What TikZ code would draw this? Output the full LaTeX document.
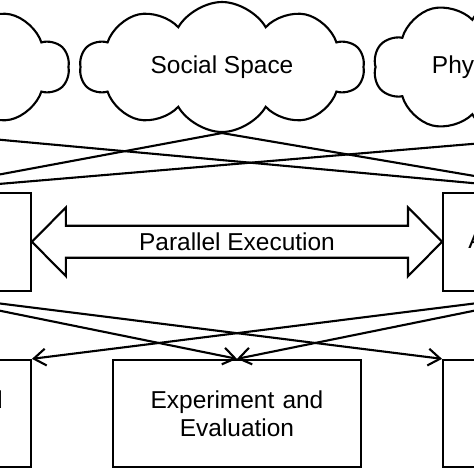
\documentclass[tikz,border=0pt]{standalone}
\usepackage{fontspec}
\setmainfont{Liberation Sans}
\usetikzlibrary{arrows.meta,positioning,shapes.symbols,calc}
\tikzset{
    %Define standard arrow tip
    >={Straight Barb[length=3mm,width=4.2mm]},
    font=\fontsize{17.4}{19.8}\selectfont,
    %Define style for clouds
    wolke/.style={
           cloud, cloud puffs=10, cloud puff arc=120, aspect=2.2,
           draw=black, line width=1.5pt,
           minimum width=7.1cm,
           minimum height=3.25cm,
           inner sep=0pt},
    %Define style for boxes
    rechteck/.style={
           rectangle,
           draw=black, line width=1.5pt,
           minimum width=6.2cm,
           text width=5.8cm,
           text centered},
    % Define line and arrow styles
    linie/.style={
           line width=1.5pt},
    pil/.style={
	   ->,
           line width=1.5pt},
    dbl/.style={
           draw=black, line width=1.5pt, line join=miter}
}

\begin{document}
\begin{tikzpicture}[node distance=0.25cm]
  \useasboundingbox (-5.925,-5.925) rectangle (5.925,5.925);
  \clip (-5.925,-5.925) rectangle (5.925,5.925);
  % spaces
  \node[wolke] (c2) at (-0.375,4.25) {Social Space};
  \node[wolke] (c1) [left=of c2] {};
  \node[wolke] (c3) [right=of c2] {Physical Space};
  % bottom row
  \node[rechteck, minimum height=2.675cm] (b2) at (0,-4.41) {Experiment and\\Evaluation};
  \node[rechteck, minimum height=2.675cm] (b1) [left=2cm of b2] {Management and\\Control};
  \node[rechteck, minimum height=2.675cm] (b3) [right=2cm of b2] {Learning and\\Training};
  % systems
  \node[rechteck, minimum height=2.45cm] (s1) [above=1.675cm of b1] {};
  \node[rechteck, minimum height=2.45cm] (s2) [above=1.675cm of b3] {\hspace*{-0.25cm}Artificial Systems};
  % parallel execution
  \draw[dbl] (s1.east) -- ++(0.85,0.86) -- ++(0,-0.46)
    -- ($(s2.west)+(-0.85,0.4)$) -- ++(0,0.46) -- (s2.west)
    -- ++(-0.85,-0.86) -- ++(0,0.46)
    -- ($(s1.east)+(0.85,-0.4)$) -- ++(0,-0.46) -- cycle;
  \node (pe) at ($(s1.east)!0.5!(s2.west)$) {Parallel Execution};
  % connections
  \path[linie]
    (s1.north) edge (c2.south)
    (s1.north) edge (c3.south)
    (s2.north) edge (c2.south)
    (s2.north) edge (c1.south);
  \path[pil]
    (s1.south) edge (b2.north)
    (s1.south) edge (b3.north west)
    (s2.south) edge (b2.north)
    (s2.south) edge (b1.north east);
\end{tikzpicture}
\end{document}
